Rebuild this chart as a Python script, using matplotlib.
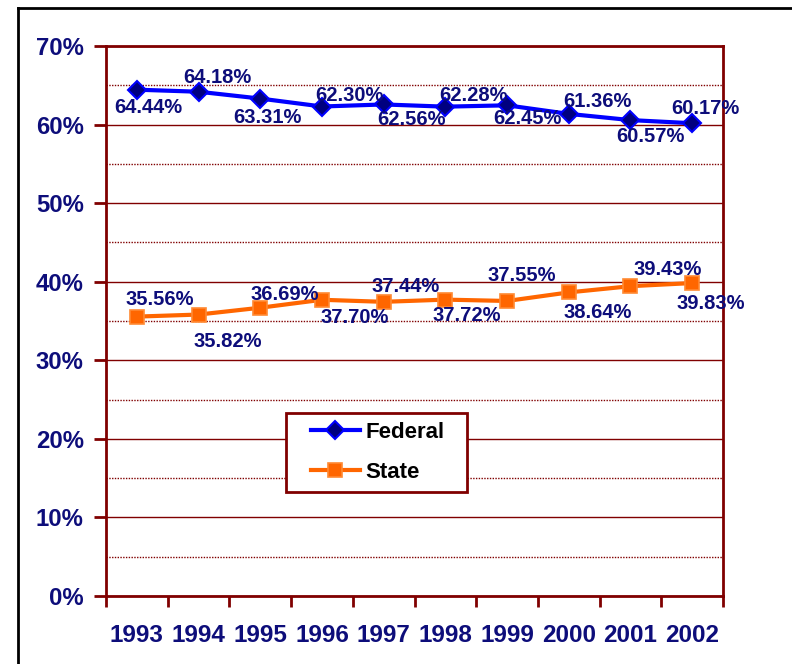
import matplotlib.pyplot as plt
from matplotlib.lines import Line2D
from matplotlib.patches import Rectangle
from matplotlib.ticker import FixedLocator, FuncFormatter

plt.rcParams['font.family'] = ['Liberation Sans', 'DejaVu Sans']
plt.rcParams['font.weight'] = 'bold'

years = ['1993', '1994', '1995', '1996', '1997', '1998', '1999', '2000', '2001', '2002']
federal = [64.44, 64.18, 63.31, 62.30, 62.56, 62.28, 62.45, 61.36, 60.57, 60.17]
state = [35.56, 35.82, 36.69, 37.70, 37.44, 37.72, 37.55, 38.64, 39.43, 39.83]

# label offsets in pixels (dx, dy) relative to each point
fed_off = [(11, -18), (19, 14), (7, -19), (27, 11), (28, -15), (28, 11), (20, -13), (29, 12), (20, -16), (13, 15)]
sta_off = [(23, 17), (29, -27), (24, 13), (33, -18), (22, 15), (21, -16), (15, 25), (29, -20), (37, 17), (19, -20)]

navy = '#0d0d7a'
dred = '#800000'

fig = plt.figure(figsize=(7.92, 6.64), dpi=100)
ax = fig.add_axes([106 / 792, 1 - 596 / 664, 617 / 792, 550 / 664])

x = list(range(len(years)))
ax.plot(x, federal, color='#0000ff', lw=3, marker='D', ms=9.5,
        markerfacecolor='#000080', markeredgecolor='#0000ff', markeredgewidth=1.5,
        label='Federal', zorder=4)
ax.plot(x, state, color='#ff6600', lw=3, marker='s', ms=9.5,
        markerfacecolor='#ff6600', markeredgecolor='#ff8a33', markeredgewidth=1.2,
        label='State', zorder=4)

for xi, v, off in zip(x, federal, fed_off):
    ax.annotate(f'{v:.2f}%', (xi, v), xytext=off, textcoords='offset pixels',
                ha='center', va='center', color=navy, fontsize=14.5, fontweight='bold', zorder=5)
for xi, v, off in zip(x, state, sta_off):
    ax.annotate(f'{v:.2f}%', (xi, v), xytext=off, textcoords='offset pixels',
                ha='center', va='center', color=navy, fontsize=14.5, fontweight='bold', zorder=5)

ax.set_xlim(-0.5, len(years) - 0.5)
ax.set_ylim(0, 70)

ax.set_xticks(x)
ax.set_xticklabels(years)
ax.xaxis.set_minor_locator(FixedLocator([i - 0.5 for i in range(len(years) + 1)]))
ax.tick_params(axis='x', which='major', length=0, pad=20, labelsize=17.5, labelcolor=navy)
ax.tick_params(axis='x', which='minor', length=8, width=2, color=dred)

ax.set_yticks(range(0, 71, 10))
ax.yaxis.set_major_formatter(FuncFormatter(lambda v, p: f'{v:.0f}%'))
ax.yaxis.set_minor_locator(FixedLocator(range(5, 70, 10)))
ax.tick_params(axis='y', which='major', length=9, width=2, color=dred, pad=7,
               labelsize=17.2, labelcolor=navy)
ax.tick_params(axis='y', which='minor', length=0)

ax.grid(axis='y', which='major', color=dred, lw=1, ls='-')
ax.grid(axis='y', which='minor', color=dred, lw=1, ls=(0, (1, 1)))
ax.set_axisbelow(True)

for s in ax.spines.values():
    s.set_color(dred)
    s.set_linewidth(2)

for lab in ax.get_xticklabels() + ax.get_yticklabels():
    lab.set_fontweight('bold')

# legend box drawn separately so the padding can match
lx, ly, lw_, lh = 180 / 617, 104 / 550, 181 / 617, 79 / 550
ax.add_patch(Rectangle((lx, ly), lw_, lh, transform=ax.transAxes, facecolor='white',
                       edgecolor=dred, lw=2, zorder=6))
leg = ax.legend(loc='center', bbox_to_anchor=(lx + lw_ / 2 + 0.002, ly + lh / 2),
                frameon=False, fontsize=16, handlelength=2.2, handletextpad=0.25,
                labelspacing=0.85, borderpad=0, borderaxespad=0)
leg.set_zorder(7)
for t in leg.get_texts():
    t.set_fontweight('bold')
    t.set_color('black')

# outer frame
fig.add_artist(Line2D([18 / 792, 1], [1 - 8 / 664, 1 - 8 / 664], color='black', lw=2,
                      transform=fig.transFigure))
fig.add_artist(Line2D([18 / 792, 18 / 792], [0, 1 - 8 / 664], color='black', lw=2,
                      transform=fig.transFigure))

fig.savefig('out.png', dpi=100)
